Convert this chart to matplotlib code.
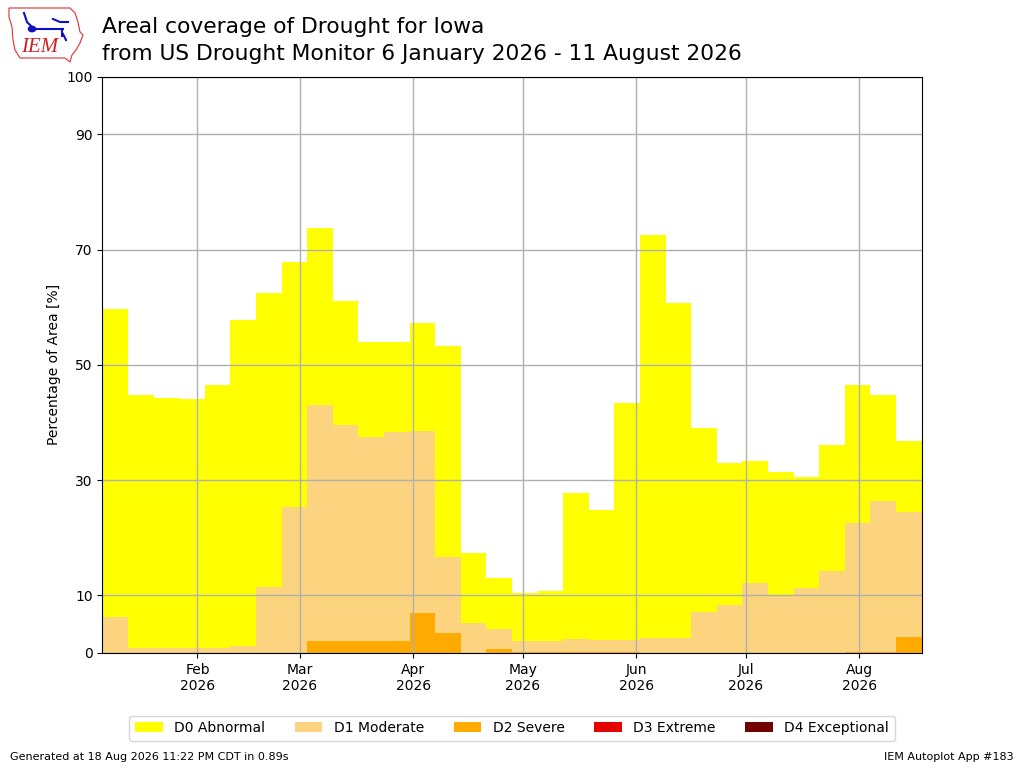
import datetime as dt
import matplotlib
matplotlib.use("Agg")
import matplotlib.pyplot as plt
import matplotlib.dates as mdates
from matplotlib.patches import Polygon, Circle
from matplotlib.lines import Line2D

# Weekly valid dates (US Drought Monitor)
start = dt.date(2026, 1, 6)
weeks = [start + dt.timedelta(days=7 * i) for i in range(32)]

# cumulative areal coverage [%]
d0 = [59.7, 44.8, 44.3, 44.1, 46.5, 57.7, 62.5, 67.9, 73.8, 61.1, 54.0, 54.0,
      57.3, 53.3, 17.4, 13.0, 10.4, 10.8, 27.8, 24.8, 43.3, 72.6, 60.8, 39.1,
      33.0, 33.3, 31.4, 30.5, 36.1, 46.5, 44.8, 36.7]
d1 = [6.2, 0.9, 0.9, 0.9, 0.9, 1.1, 11.5, 25.3, 43.1, 39.6, 37.5, 38.4,
      38.5, 16.7, 5.1, 4.1, 2.1, 2.1, 2.4, 2.3, 2.3, 2.6, 2.6, 7.1,
      8.3, 12.2, 10.1, 11.3, 14.2, 22.6, 26.4, 24.5]
d2 = [0, 0, 0, 0, 0, 0, 0, 0, 2.1, 2.1, 2.1, 2.1,
      6.9, 3.5, 0, 0.6, 0.2, 0.1, 0.1, 0.1, 0.1, 0, 0, 0,
      0, 0, 0, 0, 0, 0.2, 0.2, 2.8]
d3 = [0.0] * 32
d4 = [0.0] * 32

labels = ["D0 Abnormal", "D1 Moderate", "D2 Severe", "D3 Extreme", "D4 Exceptional"]
colors = ["#ffff00", "#fcd37f", "#ffaa00", "#e60000", "#730000"]
yticks = [0, 10, 30, 50, 70, 90, 100]

W, H = 1024, 768
fig = plt.figure(figsize=(W / 100, H / 100), dpi=100)
ax = fig.add_axes([0.1, 0.15, 0.8, 0.75])

for vals, lab, col in zip([d0, d1, d2, d3, d4], labels, colors):
    ax.bar(weeks, vals, width=7, align="edge", color=col, label=lab, linewidth=0)

ax.set_xlim(start, dt.date(2026, 8, 18))
ax.set_ylim(0, 100)
ax.set_yticks(yticks)
ax.set_ylabel("Percentage of Area [%]")
ax.xaxis.set_major_locator(mdates.MonthLocator())
ax.xaxis.set_major_formatter(mdates.DateFormatter("%b\n%Y"))
ax.grid(True, color="#b0b0b0", linewidth=1)
ax.tick_params(labelsize=10)

ax.legend(loc="upper center", bbox_to_anchor=(0.5, -0.097), ncol=5, fontsize=10,
          columnspacing=2.15)

fig.text(0.1, 0.978, "Areal coverage of Drought for Iowa\n"
         "from US Drought Monitor 6 January 2026 - 11 August 2026",
         fontsize=15.7, va="top", ha="left", linespacing=1.42)


def px(x, y):
    return (x / W, 1 - y / H)


# simple IEM logo
outline = [(9, 8), (70, 8), (75, 13), (78, 22), (80, 32), (83, 35), (80, 43),
           (76, 50), (72, 55), (70, 62), (65, 58), (20, 58), (15, 50), (13, 40),
           (12, 27), (9, 17)]
fig.patches.append(Polygon([px(*p) for p in outline], closed=True, fill=False,
                           edgecolor="#e03030", linewidth=0.8,
                           transform=fig.transFigure))
for seg in [[(32, 29), (63, 29)], [(62, 29), (62, 36)], [(24, 13), (27, 22), (32, 27)],
            [(53, 19), (60, 22), (68, 22)], [(63, 34), (66, 40)]]:
    xs, ys = zip(*[px(*p) for p in seg])
    fig.add_artist(Line2D(xs, ys, color="#1010c0", linewidth=1.5,
                          transform=fig.transFigure))
fig.patches.append(Circle(px(32, 29), 0.0035, color="#1010c0",
                          transform=fig.transFigure))
fig.text(*px(40, 48), "IEM", color="#d02020", fontsize=15, style="italic",
         family="Liberation Serif", ha="center", va="center")

fig.text(0.01, 0.01, "Generated at 18 Aug 2026 11:22 PM CDT in 0.89s", fontsize=8)
fig.text(0.99, 0.01, "IEM Autoplot App #183", fontsize=8, ha="right")

fig.savefig("out.png", dpi=100)
